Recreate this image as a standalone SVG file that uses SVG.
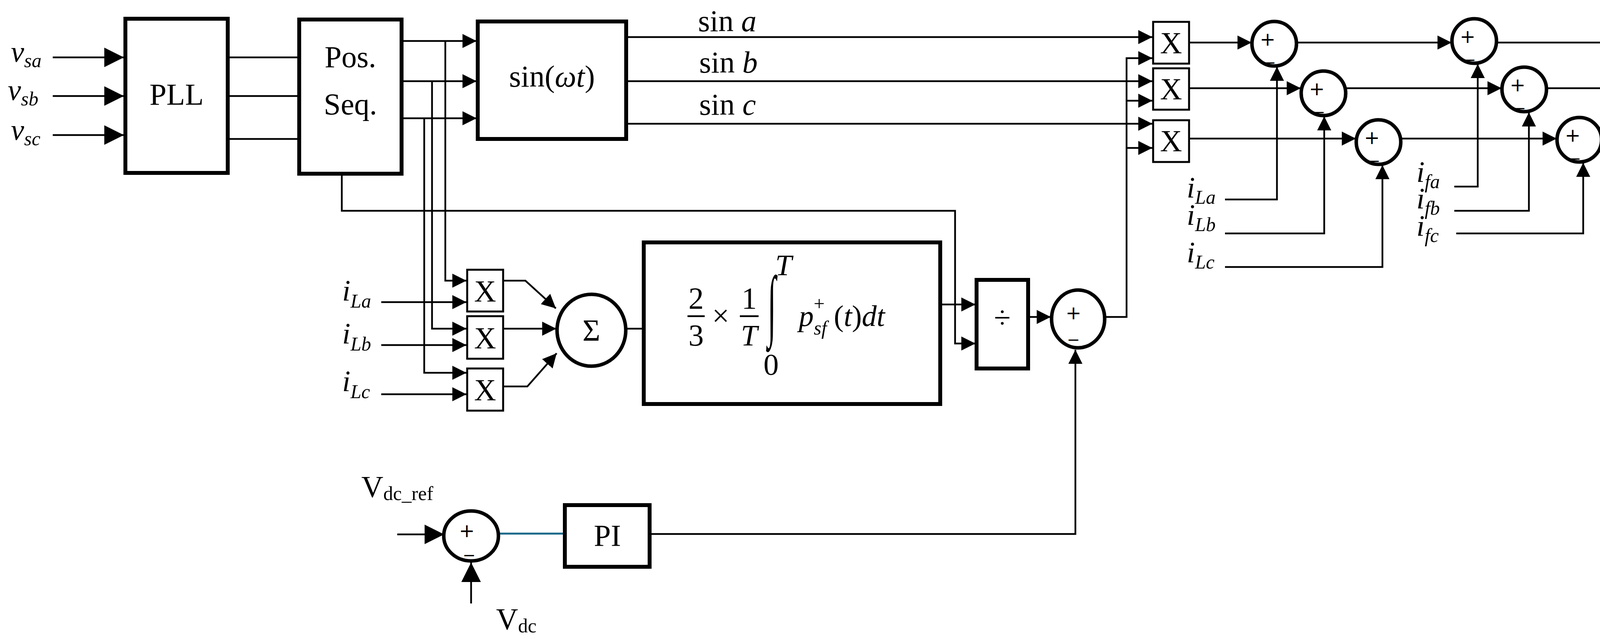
<svg xmlns="http://www.w3.org/2000/svg" width="4371" height="1637" viewBox="0 0 4371 1637">
<style>
.w{fill:none;stroke:#000;stroke-width:4.5}
.b{fill:#fff;stroke:#000;stroke-width:10}
.bx{fill:#fff;stroke:#000;stroke-width:5}
.c{fill:#fff;stroke:#000;stroke-width:9}
.t{font-family:"Liberation Serif",serif;font-size:78px;fill:#000}
.i{font-family:"Liberation Serif",serif;font-style:italic;font-size:76px;fill:#000}
.s{font-size:50px}
.pm{font-family:"DejaVu Sans",sans-serif;font-size:48px;fill:#000}
</style>
<defs>
<marker id="a" markerUnits="userSpaceOnUse" markerWidth="40" markerHeight="36" refX="36" refY="18" orient="auto"><path d="M0,0L36,18L0,36z"/></marker>
<marker id="A" markerUnits="userSpaceOnUse" markerWidth="54" markerHeight="50" refX="50" refY="25" orient="auto"><path d="M0,0L50,25L0,50z"/></marker>
</defs>
<g id="connectors">
<path class="w" marker-end="url(#A)" d="M135,147H317"/>
<path class="w" marker-end="url(#A)" d="M135,246H317"/>
<path class="w" marker-end="url(#A)" d="M135,346H317"/>
<path class="w" d="M583,147H766M583,246H766M583,356H766"/>
<path class="w" marker-end="url(#a)" d="M1028,105H1220"/>
<path class="w" marker-end="url(#a)" d="M1028,208H1220"/>
<path class="w" marker-end="url(#a)" d="M1028,303H1220"/>
<path class="w" marker-end="url(#a)" d="M1140,105V719H1194"/>
<path class="w" marker-end="url(#a)" d="M1106,208V842H1194"/>
<path class="w" marker-end="url(#a)" d="M1086,303V955H1194"/>
<path class="w" marker-end="url(#a)" d="M976,774H1194"/>
<path class="w" marker-end="url(#a)" d="M976,884H1194"/>
<path class="w" marker-end="url(#a)" d="M976,1010H1194"/>
<path class="w" marker-end="url(#a)" d="M1288,719H1345L1423,790"/>
<path class="w" marker-end="url(#a)" d="M1288,842H1424"/>
<path class="w" marker-end="url(#a)" d="M1288,990H1350L1425,905"/>
<path class="w" d="M1604,842H1645"/>
<path class="w" marker-end="url(#a)" d="M875,445V540H2445V880H2497"/>
<path class="w" marker-end="url(#a)" d="M2407,780H2497"/>
<path class="w" marker-end="url(#a)" d="M2632,812H2690"/>
<path class="w" marker-end="url(#a)" d="M2830,812H2884V149H2950"/>
<path class="w" marker-end="url(#a)" d="M2884,258H2950"/>
<path class="w" marker-end="url(#a)" d="M2884,379H2950"/>
<path class="w" marker-end="url(#a)" d="M1603,95H2950"/>
<path class="w" marker-end="url(#a)" d="M1603,208H2950"/>
<path class="w" marker-end="url(#a)" d="M1603,317H2950"/>
<path class="w" marker-end="url(#a)" d="M3044,109H3204"/>
<path class="w" marker-end="url(#a)" d="M3044,226H3330"/>
<path class="w" marker-end="url(#a)" d="M3044,355H3471"/>
<path class="w" marker-end="url(#a)" d="M3320,109H3716"/>
<path class="w" marker-end="url(#a)" d="M3446,226H3844"/>
<path class="w" marker-end="url(#a)" d="M3587,355H3985"/>
<path class="w" marker-end="url(#a)" d="M3832,109H4240"/>
<path class="w" marker-end="url(#a)" d="M3960,226H4240"/>
<path class="w" marker-end="url(#a)" d="M4101,355H4240"/>
<path class="w" marker-end="url(#a)" d="M3136,511H3269V171"/>
<path class="w" marker-end="url(#a)" d="M3136,598H3390V298"/>
<path class="w" marker-end="url(#a)" d="M3136,684H3539V423"/>
<path class="w" marker-end="url(#a)" d="M3723,478H3783V164"/>
<path class="w" marker-end="url(#a)" d="M3723,540H3914V288"/>
<path class="w" marker-end="url(#a)" d="M3728,598H4053V417"/>
<path class="w" marker-end="url(#A)" d="M1017,1369H1137"/>
<path class="w" marker-end="url(#A)" d="M1206,1546V1441"/>
<path fill="none" stroke="#1a6a8a" stroke-width="5" d="M1279,1367H1446"/>
<path class="w" marker-end="url(#a)" d="M1663,1368H2753V896"/>
</g>
<g id="inputs">
<text class="i" x="28" y="158">v<tspan class="s" dy="14">sa</tspan></text>
<text class="i" x="20" y="256">v<tspan class="s" dy="14">sb</tspan></text>
<text class="i" x="28" y="358">v<tspan class="s" dy="14">sc</tspan></text>
</g>
<g id="pll"><rect class="b" x="321" y="48" width="262" height="395"/><text class="t" x="452" y="268" text-anchor="middle">PLL</text></g>
<g id="posseq"><rect class="b" x="766" y="50" width="262" height="395"/><text class="t" x="897" y="172" text-anchor="middle">Pos.</text><text class="t" x="897" y="293" text-anchor="middle">Seq.</text></g>
<g id="sin"><rect class="b" x="1223" y="55" width="380" height="301"/><text class="t" x="1413" y="222" text-anchor="middle">sin(<tspan font-style="italic">ωt</tspan>)</text></g>
<g id="sinlabels">
<text class="t" x="1787" y="80">sin <tspan font-style="italic">a</tspan></text>
<text class="t" x="1790" y="186">sin <tspan font-style="italic">b</tspan></text>
<text class="t" x="1790" y="294">sin <tspan font-style="italic">c</tspan></text>
</g>
<g id="mul1"><rect class="bx" x="1196" y="691" width="92" height="107"/><text class="t" x="1242" y="772" text-anchor="middle">X</text></g>
<g id="mul2"><rect class="bx" x="1196" y="810" width="92" height="109"/><text class="t" x="1242" y="892" text-anchor="middle">X</text></g>
<g id="mul3"><rect class="bx" x="1196" y="944" width="92" height="108"/><text class="t" x="1242" y="1025" text-anchor="middle">X</text></g>
<g id="iL">
<text class="i" x="876" y="770">i<tspan class="s" dy="18">La</tspan></text>
<text class="i" x="876" y="880">i<tspan class="s" dy="18">Lb</tspan></text>
<text class="i" x="876" y="1002">i<tspan class="s" dy="18">Lc</tspan></text>
</g>
<g id="sigma"><ellipse class="c" cx="1514" cy="846" rx="88" ry="92"/><text class="t" x="1514" y="872" text-anchor="middle">Σ</text></g>
<g id="integral"><rect class="b" x="1648" y="621" width="759" height="414"/>
<text class="t" x="1782" y="790" text-anchor="middle">2</text><path class="w" d="M1760,810H1804"/><text class="t" x="1782" y="885" text-anchor="middle">3</text>
<text class="t" x="1845" y="835" text-anchor="middle">×</text>
<text class="t" x="1918" y="790" text-anchor="middle">1</text><path class="w" d="M1894,810H1942"/><text class="i" x="1918" y="885" text-anchor="middle">T</text>
<text class="t" font-size="90px" text-anchor="middle" transform="translate(1976,812) scale(1,2.6)" x="0" y="14">∫</text>
<text class="i" x="2006" y="705" font-size="48px" text-anchor="middle">T</text>
<text class="t" x="1974" y="960" font-size="48px" text-anchor="middle">0</text>
<text class="i" x="2045" y="835">p<tspan class="s" dy="-40" font-style="normal">+</tspan><tspan class="s" dx="-28" dy="62">sf</tspan><tspan dx="18" dy="-22" font-style="normal">(</tspan>t<tspan font-style="normal">)</tspan>dt</text>
</g>
<g id="div"><rect class="b" x="2500" y="717" width="132" height="227"/><text class="t" x="2566" y="840" text-anchor="middle">÷</text></g>
<g id="sub"><ellipse class="c" cx="2760" cy="817" rx="68" ry="74"/><text class="pm" x="2728" y="818">+</text><text class="pm" x="2736" y="862">_</text></g>
<g id="mulR1"><rect class="bx" x="2952" y="56" width="92" height="107"/><text class="t" x="2998" y="136" text-anchor="middle">X</text></g>
<g id="mulR2"><rect class="bx" x="2952" y="175" width="92" height="106"/><text class="t" x="2998" y="254" text-anchor="middle">X</text></g>
<g id="mulR3"><rect class="bx" x="2952" y="308" width="92" height="107"/><text class="t" x="2998" y="387" text-anchor="middle">X</text></g>
<g id="sA1"><circle class="c" cx="3262" cy="112" r="57"/><text class="pm" x="3225" y="117">+</text><text class="pm" x="3238" y="152">_</text></g>
<g id="sB1"><circle class="c" cx="3388" cy="239" r="57"/><text class="pm" x="3351" y="244">+</text><text class="pm" x="3364" y="279">_</text></g>
<g id="sC1"><circle class="c" cx="3529" cy="364" r="57"/><text class="pm" x="3492" y="369">+</text><text class="pm" x="3505" y="404">_</text></g>
<g id="sA2"><circle class="c" cx="3774" cy="105" r="57"/><text class="pm" x="3737" y="110">+</text><text class="pm" x="3750" y="145">_</text></g>
<g id="sB2"><circle class="c" cx="3902" cy="229" r="57"/><text class="pm" x="3865" y="234">+</text><text class="pm" x="3878" y="269">_</text></g>
<g id="sC2"><circle class="c" cx="4043" cy="358" r="57"/><text class="pm" x="4006" y="363">+</text><text class="pm" x="4019" y="398">_</text></g>
<g id="iLR">
<text class="i" x="3038" y="506">i<tspan class="s" dy="16">La</tspan></text>
<text class="i" x="3038" y="576">i<tspan class="s" dy="16">Lb</tspan></text>
<text class="i" x="3038" y="672">i<tspan class="s" dy="16">Lc</tspan></text>
<text class="i" x="3626" y="466">i<tspan class="s" dy="16">fa</tspan></text>
<text class="i" x="3626" y="534">i<tspan class="s" dy="16">fb</tspan></text>
<text class="i" x="3626" y="604">i<tspan class="s" dy="16">fc</tspan></text>
</g>
<g id="outputs">
<text class="i" x="4254" y="130">i<tspan class="s" dy="-30" font-style="normal">*</tspan><tspan class="s" dx="-18" dy="50">fa</tspan></text>
<text class="i" x="4254" y="247">i<tspan class="s" dy="-30" font-style="normal">*</tspan><tspan class="s" dx="-18" dy="50">fb</tspan></text>
<text class="i" x="4254" y="375">i<tspan class="s" dy="-30" font-style="normal">*</tspan><tspan class="s" dx="-18" dy="50">fc</tspan></text>
</g>
<g id="sumdc"><ellipse class="c" cx="1206" cy="1373" rx="70" ry="64"/><text class="pm" x="1175" y="1376">+</text><text class="pm" x="1189" y="1414">_</text></g>
<g id="pi"><rect class="b" x="1446" y="1294" width="217" height="158"/><text class="t" x="1555" y="1398" text-anchor="middle">PI</text></g>
<text class="t" x="925" y="1273">V<tspan class="s" dy="8">dc_ref</tspan></text>
<text class="t" x="1270" y="1612">V<tspan class="s" dy="8">dc</tspan></text>
</svg>
